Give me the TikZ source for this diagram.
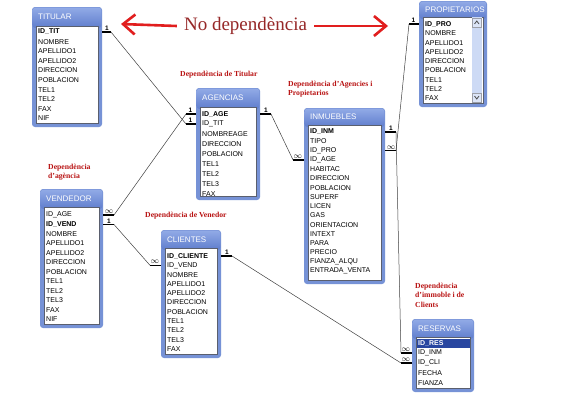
\documentclass[tikz,border=0pt]{standalone}
\usepackage{fontspec}
\setmainfont{Liberation Serif}
\newfontfamily\fldfont{Liberation Sans}
\usetikzlibrary{arrows.meta,calc}
\definecolor{frm}{RGB}{118,146,214}
\definecolor{hdtop}{RGB}{145,170,230}
\definecolor{hdbot}{RGB}{95,125,205}
\definecolor{lbxcol}{RGB}{90,95,110}
\definecolor{selblue}{RGB}{40,70,160}
\definecolor{sbcol}{RGB}{205,218,245}
\definecolor{depred}{RGB}{185,20,20}
\definecolor{nodepcol}{RGB}{150,40,40}
\definecolor{arrred}{RGB}{225,30,30}
\newcommand\infmark{{\fontsize{8.5}{8.5}\selectfont$\infty$}}
\tikzset{
  fld/.style={anchor=west, inner sep=0pt, font=\fldfont\fontsize{7}{8}\selectfont, text=black},
  ttl/.style={anchor=west, inner sep=0pt, font=\fldfont\fontsize{8}{9}\selectfont, text=white},
  relbar/.style={line width=1.6pt, black},
  rel/.style={line width=0.5pt, black!75},
  mk/.style={inner sep=0pt, font=\fldfont\bfseries\fontsize{6.5}{6.5}\selectfont},
  dep/.style={font=\bfseries\fontsize{7.7}{9.5}\selectfont, text=depred, align=left, anchor=west, inner sep=0pt},
  redarrow/.style={arrred, line width=2.6pt, -{Straight Barb[length=12pt,width=20pt]}},
}
% name, x1, y1, x2, y2, header bottom, title
\newcommand\dbframe[7]{%
  \fill[frm, rounded corners=3pt] (#2,#3) rectangle (#4,#5);
  \shade[top color=hdtop, bottom color=hdbot, rounded corners=3pt] (#2+0.6,#3+0.6) rectangle (#4-0.6,#6+2);
  \draw[lbxcol, fill=white, line width=0.5pt] (#2+4,#6) rectangle (#4-4,#5-4);
  \coordinate (#1-l) at (#2,#3);
  \coordinate (#1-r) at (#4,#3);
  \node[ttl] (#1-t) at (#2+6,{(#3+#6)/2+0.5}) {#7};
}
% name, x1, header bottom, step, fields
\newcommand\dbfields[5]{%
  \foreach \f [count=\i] in {#5} \node[fld] (#1-\i) at (#2+6,{#3+7+(\i-1)*#4}) {\f};
}
% name, field node, edge coordinate, signed length, label
\newcommand\rend[5]{%
  \coordinate (#1a) at (#2 -| #3);
  \coordinate (#1) at ($(#1a)+(#4,0)$);
  \draw[relbar] (#1a) -- (#1);
  \node[mk, above=1.2pt] at ($(#1a)!0.55!(#1)$) {#5};
}
\begin{document}
\begin{tikzpicture}[x=1pt,y=-1pt]
\fill[white] (0,0) rectangle (567,410);
\useasboundingbox (0,0) rectangle (567,410);

% TITULAR
\dbframe{tit}{32}{7}{102}{127}{26}{TITULAR}
\dbfields{tit}{32}{25}{9.6}{{\bfseries ID\_TIT},NOMBRE,APELLIDO1,APELLIDO2,DIRECCION,POBLACION,TEL1,TEL2,FAX,NIF}

% PROPIETARIOS
\dbframe{pro}{419}{1}{487}{107}{17}{PROPIETARIOS}
\fill[sbcol] (472,17.3) rectangle (481.5,102.7);
\draw[lbxcol!60, fill=sbcol!70] (472.5,18) rectangle (481,27);
\draw[lbxcol!60, fill=sbcol!70] (472.5,93) rectangle (481,102);
\draw[black!70, line width=0.8pt] (474.5,24) -- (476.75,21) -- (479,24);
\draw[black!70, line width=0.8pt] (474.5,96) -- (476.75,99) -- (479,96);
\dbfields{pro}{419}{17}{9.3}{{\bfseries ID\_PRO},NOMBRE,APELLIDO1,APELLIDO2,DIRECCION,POBLACION,TEL1,TEL2,FAX}

% AGENCIAS
\dbframe{age}{196}{88}{260}{200}{107}{AGENCIAS}
\dbfields{age}{196}{107}{10}{{\bfseries ID\_AGE},ID\_TIT,NOMBREAGE,DIRECCION,POBLACION,TEL1,TEL2,TEL3,FAX}

% INMUEBLES
\dbframe{inm}{304}{108}{385}{284}{125}{INMUEBLES}
\dbfields{inm}{304}{125}{9.27}{{\bfseries ID\_INM},TIPO,ID\_PRO,ID\_AGE,HABITAC,DIRECCION,POBLACION,SUPERF,LICEN,GAS,ORIENTACION,INTEXT,PARA,PRECIO,FIANZA\_ALQU,ENTRADA\_VENTA}

% VENDEDOR
\dbframe{ven}{40}{189}{103}{328}{207}{VENDEDOR}
\dbfields{ven}{40}{208}{9.5}{ID\_AGE,{\bfseries ID\_VEND},NOMBRE,APELLIDO1,APELLIDO2,DIRECCION,POBLACION,TEL1,TEL2,TEL3,FAX,NIF}

% CLIENTES
\dbframe{cli}{161}{230}{221}{358}{248}{CLIENTES}
\dbfields{cli}{161}{249}{9.3}{{\bfseries ID\_CLIENTE},ID\_VEND,NOMBRE,APELLIDO1,APELLIDO2,DIRECCION,POBLACION,TEL1,TEL2,TEL3,FAX}

% RESERVAS
\dbframe{res}{412}{319}{474}{392}{337}{RESERVAS}
\fill[selblue] (416.5,338.5) rectangle (469.5,347.5);
\dbfields{res}{412}{336}{10}{{\bfseries\color{white}ID\_RES},ID\_INM,ID\_CLI,FECHA,FIANZA}

% relationships
\rend{e1}{tit-1}{tit-r}{9}{1}
\rend{e2}{age-2}{age-l}{-10}{1}
\draw[rel] (e1) -- (e2);
\rend{e3}{ven-1}{ven-r}{11}{\infmark}
\rend{e4}{age-1}{age-l}{-10}{1}
\draw[rel] (e3) -- (e4);
\rend{e5}{ven-2}{ven-r}{11}{1}
\rend{e6}{cli-2}{cli-l}{-11}{\infmark}
\draw[rel] (e5) -- (e6);
\rend{e7}{age-1}{age-r}{11}{1}
\rend{e8}{inm-4}{inm-l}{-11}{\infmark}
\draw[rel] (e7) -- (e8);
\rend{e9}{pro-1}{pro-l}{-10}{1}
\rend{e10}{inm-3}{inm-r}{11}{\infmark}
\draw[rel] (e9) -- (e10);
\rend{e11}{inm-1}{inm-r}{11}{1}
\rend{e12}{res-2}{res-l}{-11}{\infmark}
\draw[rel] (e11) -- (e12);
\rend{e13}{cli-1}{cli-r}{11}{1}
\rend{e14}{res-3}{res-l}{-11}{\infmark}
\draw[rel] (e13) -- (e14);

% labels
\node[inner xsep=7pt, inner ysep=0pt, text=nodepcol, font=\fontsize{19}{20}\selectfont] (nodep) at (245.5,26) {No dependència};
\coordinate (lt) at (121,24);
\coordinate (rt) at (388,26);
\draw[redarrow] (nodep.west) -- (lt);
\draw[redarrow] (nodep.east) -- (rt);

\node[dep] (d1) at (180,75) {Dependència de Titular};
\node[dep] (d2) at (288,89) {Dependència d'Agencies i\\Propietarios};
\node[dep] (d3) at (48,172) {Dependència\\d'agència};
\node[dep] (d4) at (145,216) {Dependència de Venedor};
\node[dep] (d5) at (415,295) {Dependència\\d'immoble i de\\Clients};
\end{tikzpicture}
\end{document}
